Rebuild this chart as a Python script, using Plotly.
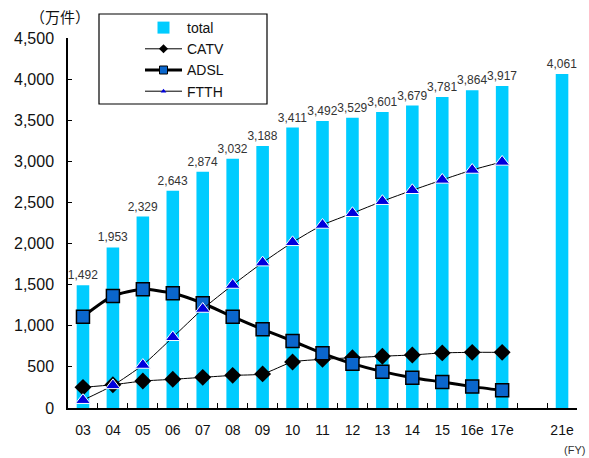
import plotly.graph_objects as go

categories = ["03", "04", "05", "06", "07", "08", "09", "10", "11", "12", "13", "14", "15", "16e", "17e", " ", "21e"]
total = [1492, 1953, 2329, 2643, 2874, 3032, 3188, 3411, 3492, 3529, 3601, 3679, 3781, 3864, 3917, None, 4061]
line_cats = categories[:15]
catv = [251, 283, 328, 349, 373, 397, 415, 560, 592, 612, 630, 645, 670, 677, 677]
adsl = [1111, 1363, 1444, 1395, 1274, 1111, 957, 815, 665, 539, 442, 369, 316, 260, 215]
ftth = [95, 275, 523, 860, 1204, 1496, 1768, 2015, 2226, 2369, 2515, 2648, 2774, 2895, 2993]
yticks = [0, 500, 1000, 1500, 2000, 2500, 3000, 3500, 4000, 4500]

FONT = "Liberation Sans, Arial, sans-serif"

fig = go.Figure()
fig.add_trace(go.Bar(
    x=categories, y=total, name="total", legendgroup="g1",
    marker=dict(color="#00CCFF", line=dict(width=0)),
    width=0.42,
    text=[f"{v:,}" if v is not None else "" for v in total],
    textposition="outside", cliponaxis=False, constraintext="none",
    textfont=dict(family=FONT, size=12, color="#333333"),
))

series = [
    ("CATV", catv, "g2", dict(color="black", width=1),
     dict(symbol="diamond", size=13, color="black", line=dict(color="black", width=0)),
     dict(symbol="diamond", size=7, color="black", line=dict(color="black", width=0))),
    ("ADSL", adsl, "g3", dict(color="black", width=3),
     dict(symbol="square", size=13, color="#0A66CC", line=dict(color="black", width=1.5)),
     dict(symbol="square", size=8, color="#0A66CC", line=dict(color="black", width=1))),
    ("FTTH", ftth, "g4", dict(color="black", width=1),
     dict(symbol="triangle-up", size=13, color="#0000DD", line=dict(color="white", width=1)),
     dict(symbol="triangle-up", size=5, color="#0000DD", line=dict(color="white", width=0))),
]
for name, vals, grp, ln, mk, lmk in series:
    fig.add_trace(go.Scatter(
        x=line_cats, y=vals, name=name, mode="lines+markers", legendgroup=grp, showlegend=False,
        line=dict(shape="spline", smoothing=0.6, **ln), marker=mk,
    ))
    # legend proxy (no data drawn)
    fig.add_trace(go.Scatter(
        x=[None], y=[None], name=name, mode="lines+markers", legendgroup=grp, showlegend=True,
        line=ln, marker=lmk,
    ))

fig.update_layout(
    width=589, height=458,
    margin=dict(l=68, r=12, t=38, b=50),
    paper_bgcolor="white", plot_bgcolor="white",
    font=dict(family=FONT, color="#111111"),
    showlegend=True,
    legend=dict(
        x=(140 - 68) / 509, xanchor="left", xref="paper",
        y=1 + (38 - 12) / 370, yanchor="top", yref="paper",
        bgcolor="rgba(0,0,0,0)", borderwidth=0,
        font=dict(family=FONT, size=14, color="#111111"),
        itemwidth=37, traceorder="grouped", tracegroupgap=0,
    ),
    xaxis=dict(
        type="category", categoryorder="array", categoryarray=categories,
        range=[-0.5, len(categories) - 0.5],
        showline=True, linecolor="black", linewidth=1.5,
        ticks="inside", tickson="boundaries", ticklen=5, tickcolor="black", tickwidth=1,
        tickfont=dict(family=FONT, size=14, color="#111111"), tickangle=0,
        ticklabelstandoff=8,
        showgrid=False, zeroline=False, fixedrange=True,
    ),
    yaxis=dict(
        range=[0, 4500], tickvals=yticks, tickformat=",",
        showline=True, linecolor="black", linewidth=1.5,
        ticks="inside", ticklen=4, tickcolor="black", tickwidth=1,
        tickfont=dict(family=FONT, size=16, color="#111111"),
        ticklabelstandoff=9,
        showgrid=False, zeroline=False, fixedrange=True,
    ),
    shapes=[dict(
        type="rect", xref="paper", yref="paper",
        x0=(99 - 68) / 509, x1=(267 - 68) / 509,
        y0=1 + (38 - 104) / 370, y1=1 + (38 - 14) / 370,
        line=dict(color="black", width=1.2), fillcolor="rgba(0,0,0,0)", layer="above",
    )],
    annotations=[
        dict(text="（万件）", xref="paper", yref="paper",
             x=(28 - 68) / 509, y=1 + (38 - 17) / 370, xanchor="left", yanchor="middle",
             showarrow=False, font=dict(family="Noto Sans CJK JP", size=15, color="#111111")),
        dict(text="(FY)", xref="paper", yref="paper",
             x=(587 - 68) / 509, y=-(450 - 408) / 370, xanchor="right", yanchor="middle",
             showarrow=False, font=dict(family=FONT, size=11, color="#333333")),
    ],
)

fig.write_html("out.html")
